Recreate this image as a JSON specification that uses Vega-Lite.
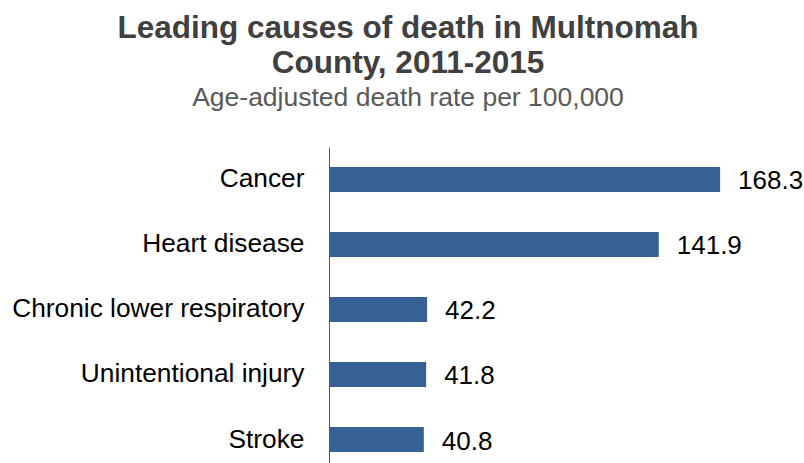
{
  "$schema": "https://vega.github.io/schema/vega-lite/v6.json",
  "width": 475,
  "height": 316,
  "autosize": {"type": "none"},
  "padding": {"left": 329, "top": 147, "right": 0, "bottom": 0},
  "background": "white",
  "title": {
    "text": ["Leading causes of death in Multnomah", "County, 2011-2015"],
    "subtitle": "Age-adjusted death rate per 100,000",
    "anchor": "middle",
    "dx": -158.5,
    "offset": 36,
    "font": "Liberation Sans",
    "fontSize": 31.5,
    "fontWeight": "bold",
    "color": "#404040",
    "lineHeight": 35,
    "subtitleFont": "Liberation Sans",
    "subtitleFontSize": 26.5,
    "subtitleColor": "#595959",
    "subtitlePadding": 5
  },
  "data": {
    "values": [
      {"cause": "Cancer", "rate": 168.3},
      {"cause": "Heart disease", "rate": 141.9},
      {"cause": "Chronic lower respiratory", "rate": 42.2},
      {"cause": "Unintentional injury", "rate": 41.8},
      {"cause": "Stroke", "rate": 40.8}
    ]
  },
  "encoding": {
    "y": {
      "field": "cause",
      "type": "nominal",
      "sort": null,
      "scale": {"paddingInner": 0.615, "paddingOuter": 0.238, "align": 0.645},
      "axis": {
        "title": null,
        "ticks": false,
        "domainColor": "#595959",
        "domainWidth": 1,
        "labelFont": "Liberation Sans",
        "labelFontSize": 26.3,
        "labelColor": "#000000",
        "labelPadding": 25,
        "labelLimit": 400,
        "grid": false
      }
    },
    "x": {
      "field": "rate",
      "type": "quantitative",
      "scale": {"domain": [0, 204.4], "nice": false, "zero": true},
      "axis": null
    }
  },
  "layer": [
    {"mark": {"type": "bar", "color": "#366194"}},
    {
      "mark": {"type": "text", "align": "left", "baseline": "middle", "dx": 18, "dy": 2, "font": "Liberation Sans", "fontSize": 26, "color": "#000000"},
      "encoding": {"text": {"field": "rate", "type": "quantitative", "format": ".1f"}}
    }
  ],
  "config": {"view": {"stroke": null}}
}
